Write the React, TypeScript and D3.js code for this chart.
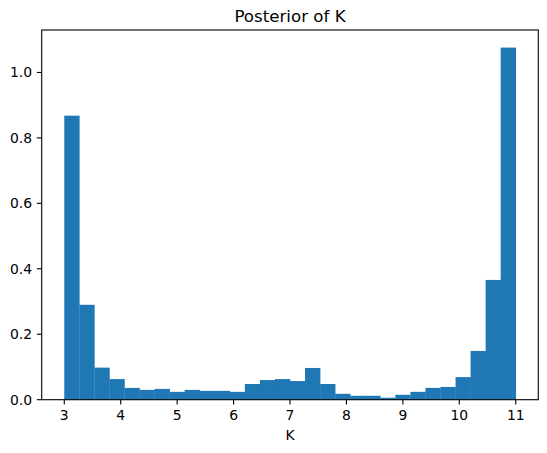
import React from "react";
import * as d3 from "d3";

const binStart = 3;
const binEnd = 11;
const density = [
  0.868, 0.29, 0.098, 0.063, 0.036, 0.03, 0.033, 0.024, 0.03, 0.027,
  0.027, 0.024, 0.048, 0.06, 0.063, 0.057, 0.097, 0.048, 0.018, 0.012,
  0.012, 0.006, 0.015, 0.024, 0.036, 0.039, 0.069, 0.149, 0.366, 1.076,
];
const xTicks = [3, 4, 5, 6, 7, 8, 9, 10, 11];
const yTicks = [0, 0.2, 0.4, 0.6, 0.8, 1.0];
const title = "Posterior of K";
const xLabel = "K";

const W = 547;
const H = 453;
const L = 41.7;
const R = 538.3;
const T = 30;
const B = 399.7;
const FONT = "DejaVu Sans, sans-serif";

export default function App() {
  const n = density.length;
  const bw = (binEnd - binStart) / n;
  const span = binEnd - binStart;
  const x = d3
    .scaleLinear()
    .domain([binStart - span * 0.05, binEnd + span * 0.05])
    .range([L, R]);
  const y = d3
    .scaleLinear()
    .domain([0, (d3.max(density) as number) * 1.05])
    .range([B, T]);
  const tick = 4.86;
  const pad = 4.86;
  return (
    <svg
      width={W}
      height={H}
      style={{ position: "absolute", left: 0, top: 0, background: "#fff" }}
    >
      <rect x={0} y={0} width={W} height={H} fill="#fff" />
      {density.map((v, i) => {
        const x0 = x(binStart + i * bw);
        const x1 = x(binStart + (i + 1) * bw);
        return (
          <rect
            key={i}
            x={x0}
            y={y(v)}
            width={x1 - x0 + 0.3}
            height={B - y(v)}
            fill="#1f77b4"
          />
        );
      })}
      <rect
        x={L}
        y={T}
        width={R - L}
        height={B - T}
        fill="none"
        stroke="#000"
        strokeWidth={1.1}
      />
      {xTicks.map((t) => (
        <g key={t}>
          <line x1={x(t)} x2={x(t)} y1={B} y2={B + tick} stroke="#000" strokeWidth={1.1} />
          <text
            x={x(t)}
            y={B + tick + pad + 10.3}
            textAnchor="middle"
            fontFamily={FONT}
            fontSize={13.9}
            fill="#000"
          >
            {t}
          </text>
        </g>
      ))}
      {yTicks.map((t) => (
        <g key={t}>
          <line x1={L} x2={L - tick} y1={y(t)} y2={y(t)} stroke="#000" strokeWidth={1.1} />
          <text
            x={L - tick - pad}
            y={y(t) + 5}
            textAnchor="end"
            fontFamily={FONT}
            fontSize={13.9}
            fill="#000"
          >
            {t.toFixed(1)}
          </text>
        </g>
      ))}
      <text
        x={(L + R) / 2}
        y={440}
        textAnchor="middle"
        fontFamily={FONT}
        fontSize={13.9}
        fill="#000"
      >
        {xLabel}
      </text>
      <text
        x={(L + R) / 2}
        y={21.5}
        textAnchor="middle"
        fontFamily={FONT}
        fontSize={16.67}
        fill="#000"
      >
        {title}
      </text>
    </svg>
  );
}
